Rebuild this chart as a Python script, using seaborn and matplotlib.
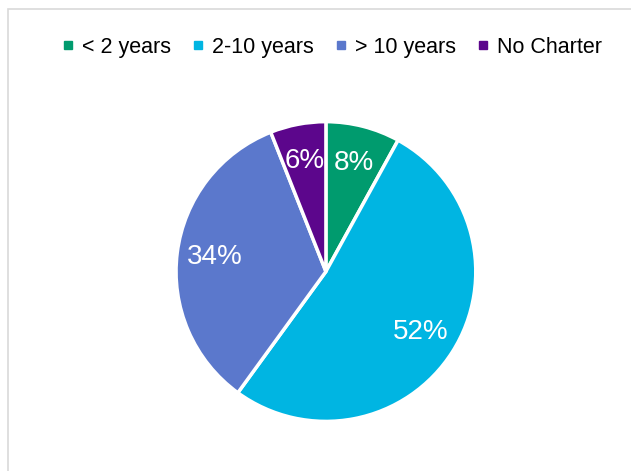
import matplotlib
matplotlib.use("Agg")
import matplotlib.pyplot as plt
import seaborn as sns
from matplotlib.patches import Rectangle
from matplotlib.lines import Line2D

labels = ["< 2 years", "2-10 years", "> 10 years", "No Charter"]
shares = [8, 52, 34, 6]
colors = ["#009B6E", "#00B5E2", "#5B78CC", "#5C068C"]

sns.set_theme(style="white")
plt.rcParams["font.family"] = ["Liberation Sans", "DejaVu Sans"]

fig = plt.figure(figsize=(6.31, 4.71), dpi=100)
fig.patches.append(Rectangle((8 / 631, -0.1), 1.2, 1 - 9 / 471 + 0.1, transform=fig.transFigure,
                             fill=False, edgecolor="#D9D9D9", linewidth=1.2))

ax = fig.add_axes([0.279, 0.105, 0.475, 0.637])
wedges, texts, autotexts = ax.pie(
    shares, colors=colors, startangle=90, counterclock=False,
    autopct=lambda p: f"{p:.0f}%", pctdistance=0.75,
    wedgeprops=dict(edgecolor="white", linewidth=2.5),
    textprops=dict(color="white", fontsize=20))
ax.set_xlim(-1, 1)
ax.set_ylim(-1, 1)
ax.set_aspect("equal")

handles = [Line2D([], [], marker="s", linestyle="", markersize=6, color=c) for c in colors]
leg = fig.legend(handles, labels, loc="center", bbox_to_anchor=(0.526, 0.9), ncol=4, frameon=False,
                 fontsize=15.5, handlelength=0.6, handletextpad=0.35, columnspacing=0.95)
for t in leg.get_texts():
    t.set_color("black")

fig.savefig("out.png", dpi=100)
